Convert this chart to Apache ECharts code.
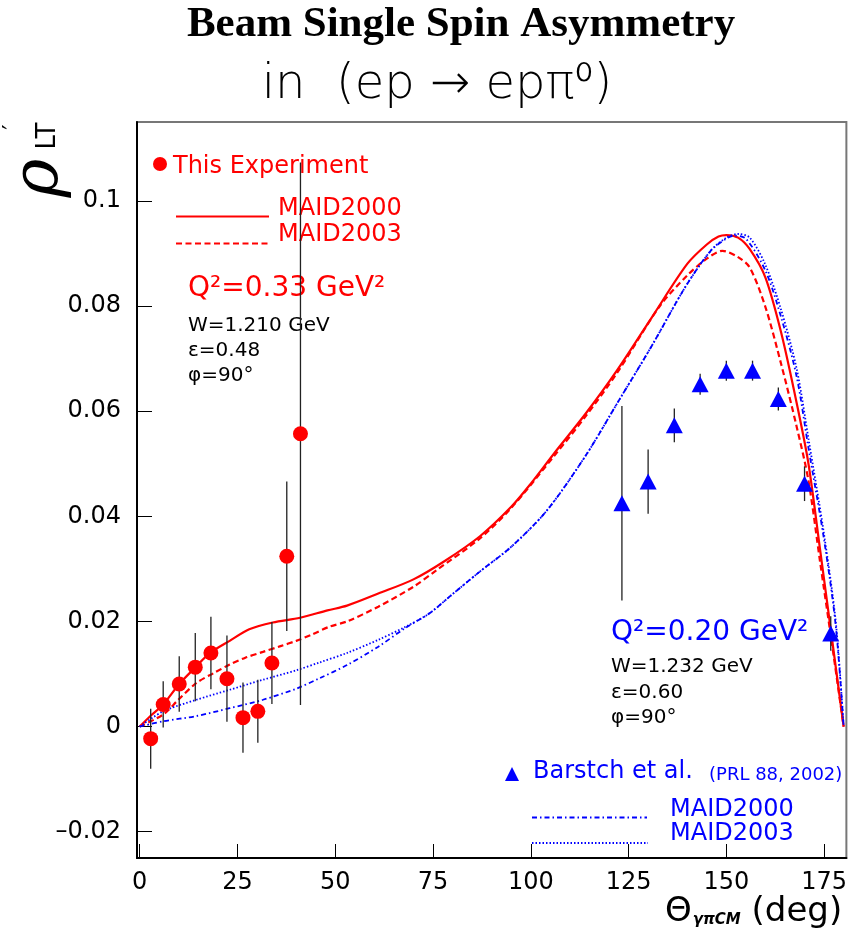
<!DOCTYPE html>
<html>
<head>
<meta charset="utf-8">
<script src="https://cdn.jsdelivr.net/npm/echarts@6.0.0/dist/echarts.min.js"></script>
<style>
html, body { margin: 0; padding: 0; background: #fff; }
#chart { width: 850px; height: 938px; }
</style>
</head>
<body>
<div id="chart"></div>
<script>
// this experiment, Q2 = 0.33 GeV2
const expTheta = [2.8, 6.0, 10.1, 14.2, 18.2, 22.3, 26.4, 30.2, 33.8, 37.6, 41.1]
const expRho = [-0.0023, 0.0042, 0.0081, 0.0113, 0.0140, 0.0091, 0.0017, 0.0029, 0.0121, 0.0324, 0.0557]
const expErr = [0.0057, 0.0044, 0.0053, 0.0065, 0.0069, 0.0082, 0.0067, 0.0060, 0.0078, 0.0142, 0.0516]

// Barstch et al. (PRL 88, 2002), Q2 = 0.20 GeV2
const barTheta = [123.3, 130.0, 136.7, 143.3, 150.0, 156.7, 163.3, 170.0, 176.7]
const barRho = [0.0425, 0.0466, 0.0573, 0.0651, 0.0677, 0.0677, 0.0623, 0.0462, 0.0177]
const barErr = [0.0185, 0.0061, 0.0032, 0.0020, 0.0019, 0.0019, 0.0022, 0.0033, 0.0033]

// MAID curves, Q2 = 0.33
const maid00RedX = [0, 3, 6, 10, 14, 18, 23, 28, 34, 41, 48, 53, 61, 70, 78, 87, 95, 100, 106, 114, 122, 131, 140, 145, 148, 150, 153, 156, 160, 164, 168, 171, 174, 177, 180]
const maid00RedY = [0, 0.0022, 0.0042, 0.0080, 0.0111, 0.0140, 0.0163, 0.0185, 0.0198, 0.0207, 0.0221, 0.0230, 0.0253, 0.0280, 0.0315, 0.0362, 0.0418, 0.0462, 0.0520, 0.0595, 0.0677, 0.0779, 0.0880, 0.0917, 0.0932, 0.0935, 0.0930, 0.0908, 0.0854, 0.0750, 0.0615, 0.0500, 0.0335, 0.0168, 0]
const maid03RedX = [0, 6, 10, 14.5, 19, 23, 27, 31.5, 36, 40, 44, 48.5, 53, 61, 70, 76, 87, 95, 106, 114, 122, 133, 140, 145, 149, 153, 156, 160, 164, 168, 171, 174, 177, 180]
const maid03RedY = [0, 0.0023, 0.0052, 0.0083, 0.0102, 0.0118, 0.0131, 0.0142, 0.0153, 0.0163, 0.0175, 0.0190, 0.0200, 0.0228, 0.0266, 0.0298, 0.0358, 0.0416, 0.0515, 0.0590, 0.0672, 0.0800, 0.0858, 0.0890, 0.0905, 0.0893, 0.0873, 0.0798, 0.0690, 0.0570, 0.0468, 0.0312, 0.0158, 0]

// MAID curves, Q2 = 0.20
const maid00BlueX = [0, 6, 14.5, 23, 31.5, 40, 46, 53, 61, 68, 74, 80, 87, 95, 104, 114, 122.5, 131, 139.5, 146, 150, 152, 155, 160, 164, 168, 171, 175, 178, 180]
const maid00BlueY = [0, 0.0010, 0.0020, 0.0035, 0.0051, 0.0072, 0.0092, 0.0117, 0.0152, 0.0188, 0.0215, 0.0252, 0.0295, 0.0342, 0.0410, 0.0515, 0.0620, 0.0725, 0.0836, 0.0905, 0.0928, 0.0934, 0.0928, 0.0867, 0.0779, 0.0665, 0.0530, 0.0355, 0.0190, 0]
const maid03BlueX = [0, 6, 14.5, 23, 31.5, 40, 46, 53, 61, 68, 74, 80, 87, 95, 104, 114, 122.5, 131, 139.5, 146, 150, 153, 156, 160, 164, 168, 171, 175, 178, 180]
const maid03BlueY = [0, 0.0029, 0.0051, 0.0070, 0.0089, 0.0107, 0.0122, 0.0140, 0.0165, 0.0190, 0.0215, 0.0252, 0.0295, 0.0342, 0.0410, 0.0515, 0.0620, 0.0725, 0.0836, 0.0905, 0.0930, 0.0937, 0.0930, 0.0878, 0.0793, 0.0680, 0.0548, 0.0365, 0.0198, 0]

const xTicks = [0, 25, 50, 75, 100, 125, 150, 175]
const yTicks = [-0.02, 0, 0.02, 0.04, 0.06, 0.08, 0.1]

const RED = '#ff0000'
const BLUE = '#0000ff'
const FONT = '"DejaVu Sans", sans-serif'

const zip = (xs, ys) => xs.map((x, i) => [x, ys[i]])

const errBars = (xs, ys, es) => xs.map((x, i) => [x, ys[i] - es[i], ys[i] + es[i]])

function errRender (params, api) {
  const lo = api.coord([api.value(0), api.value(1)])
  const hi = api.coord([api.value(0), api.value(2)])
  return {
    type: 'line',
    shape: { x1: lo[0], y1: lo[1], x2: hi[0], y2: hi[1] },
    style: { stroke: '#222', lineWidth: 1.3 }
  }
}

function curve (xs, ys, color, dash, width) {
  return {
    type: 'line',
    data: zip(xs, ys),
    showSymbol: false,
    smooth: 0.3,
    lineStyle: { color: color, width: width, type: dash },
    z: 2,
    silent: true
  }
}

function txt (x, y, text, size, color, extra) {
  return {
    type: 'text',
    x: x,
    y: y,
    style: Object.assign({
      text: text,
      font: size + 'px ' + FONT,
      fill: color,
      align: 'left',
      verticalAlign: 'middle'
    }, extra || {})
  }
}

function seg (x1, x2, y, color, dash, width) {
  return {
    type: 'line',
    shape: { x1: x1, y1: y, x2: x2, y2: y },
    style: { stroke: color, lineWidth: width, lineDash: dash }
  }
}

function rotTxt (x, y, text, font) {
  return {
    type: 'text',
    x: x,
    y: y,
    rotation: Math.PI / 2,
    style: { text: text, font: font, fill: '#000', align: 'center', verticalAlign: 'middle' }
  }
}

const chart = echarts.init(document.getElementById('chart'), null, { renderer: 'canvas' })

const option = {
  backgroundColor: '#fff',
  animation: false,
  grid: {
    left: 137,
    top: 122,
    width: 711,
    height: 736,
    show: true,
    borderColor: '#777',
    borderWidth: 2,
    backgroundColor: 'transparent'
  },
  xAxis: {
    type: 'value',
    min: -0.7,
    max: 180.7,
    axisLine: { show: true, onZero: false, lineStyle: { color: '#000', width: 2 } },
    axisTick: { show: true, inside: true, length: 14, customValues: xTicks, lineStyle: { color: '#000', width: 1 } },
    axisLabel: { customValues: xTicks, fontFamily: 'DejaVu Sans', fontSize: 24, color: '#000', margin: 13 },
    splitLine: { show: false }
  },
  yAxis: {
    type: 'value',
    min: -0.025,
    max: 0.115,
    axisLine: { show: true, onZero: false, lineStyle: { color: '#000', width: 2 } },
    axisTick: { show: true, inside: true, length: 15, customValues: yTicks, lineStyle: { color: '#000', width: 1 } },
    axisLabel: {
      customValues: yTicks,
      fontFamily: 'DejaVu Sans',
      fontSize: 24,
      color: '#000',
      margin: 16,
      formatter: v => String(v).replace('-', '\u2013')
    },
    splitLine: { show: false }
  },
  series: [
    curve(maid00RedX, maid00RedY, RED, 'solid', 2.2),
    curve(maid03RedX, maid03RedY, RED, [6, 3.5], 2.2),
    curve(maid00BlueX, maid00BlueY, BLUE, [5, 3, 1.5, 3], 1.8),
    curve(maid03BlueX, maid03BlueY, BLUE, [1.5, 2], 1.8),
    {
      type: 'custom',
      data: errBars(expTheta, expRho, expErr),
      renderItem: errRender,
      encode: { x: 0, y: [1, 2] },
      z: 3,
      silent: true
    },
    {
      type: 'custom',
      data: errBars(barTheta, barRho, barErr),
      renderItem: errRender,
      encode: { x: 0, y: [1, 2] },
      z: 3,
      silent: true
    },
    {
      type: 'scatter',
      data: zip(expTheta, expRho),
      symbol: 'circle',
      symbolSize: 15,
      itemStyle: { color: RED, opacity: 1 },
      z: 4
    },
    {
      type: 'scatter',
      data: zip(barTheta, barRho),
      symbol: 'triangle',
      symbolSize: [17, 16],
      itemStyle: { color: BLUE, opacity: 1 },
      z: 4
    }
  ],
  graphic: [
    // titles
    txt(461, 25, 'Beam Single Spin Asymmetry', 43, '#000', { font: 'bold 43px "Liberation Serif", serif', align: 'center' }),
    txt(437, 86, 'in  (ep \u2192 ep\u03c0\u2070)', 48, '#000', { font: '300 48px ' + FONT, align: 'center' }),
    // y axis name
    rotTxt(40, 178, '\u03c1', 'italic 66px "DejaVu Serif", serif'),
    rotTxt(48, 136, 'LT', '26px ' + FONT),
    rotTxt(14, 127, '\u2032', '24px ' + FONT),
    // legend, Q2 = 0.33
    { type: 'circle', shape: { cx: 160, cy: 164, r: 7 }, style: { fill: RED } },
    txt(173, 167, 'This Experiment', 24, RED),
    seg(176, 269, 216.5, RED, null, 2),
    txt(278, 209, 'MAID2000', 24, RED),
    seg(176, 269, 243.5, RED, [6, 3.5], 2),
    txt(278, 235, 'MAID2003', 24, RED),
    txt(188, 289, 'Q\u00b2=0.33 GeV\u00b2', 28, RED),
    txt(188, 326, 'W=1.210 GeV', 20, '#000'),
    txt(188, 351, '\u03b5=0.48', 20, '#000'),
    txt(188, 376, '\u03c6=90\u00b0', 20, '#000'),
    // Q2 = 0.20
    txt(611, 633, 'Q\u00b2=0.20 GeV\u00b2', 28, BLUE),
    txt(611, 667, 'W=1.232 GeV', 20, '#000'),
    txt(611, 693, '\u03b5=0.60', 20, '#000'),
    txt(611, 718, '\u03c6=90\u00b0', 20, '#000'),
    { type: 'polygon', shape: { points: [[505, 781], [519, 781], [512, 767]] }, style: { fill: BLUE } },
    txt(533, 772, 'Barstch et al.', 24, BLUE),
    txt(709, 775, '(PRL 88, 2002)', 18, BLUE),
    seg(532, 647, 817.5, BLUE, [5, 3, 1.5, 3], 1.8),
    txt(670, 810, 'MAID2000', 24, BLUE),
    seg(532, 648, 843, BLUE, [1.5, 2], 1.8),
    txt(670, 834, 'MAID2003', 24, BLUE),
    // x axis name
    {
      type: 'text',
      x: 665,
      y: 912,
      style: {
        text: '{a|\u0398}{s|\u03b3\u03c0CM}{a| (deg)}',
        align: 'left',
        verticalAlign: 'middle',
        fill: '#000',
        rich: {
          a: { fontFamily: 'DejaVu Sans', fontSize: 34, fill: '#000' },
          s: { fontFamily: 'DejaVu Sans', fontSize: 15, fontWeight: 'bold', fontStyle: 'italic', fill: '#000', padding: [16, 0, 0, 1] }
        }
      }
    }
  ]
}

chart.setOption(option)
</script>
</body>
</html>
